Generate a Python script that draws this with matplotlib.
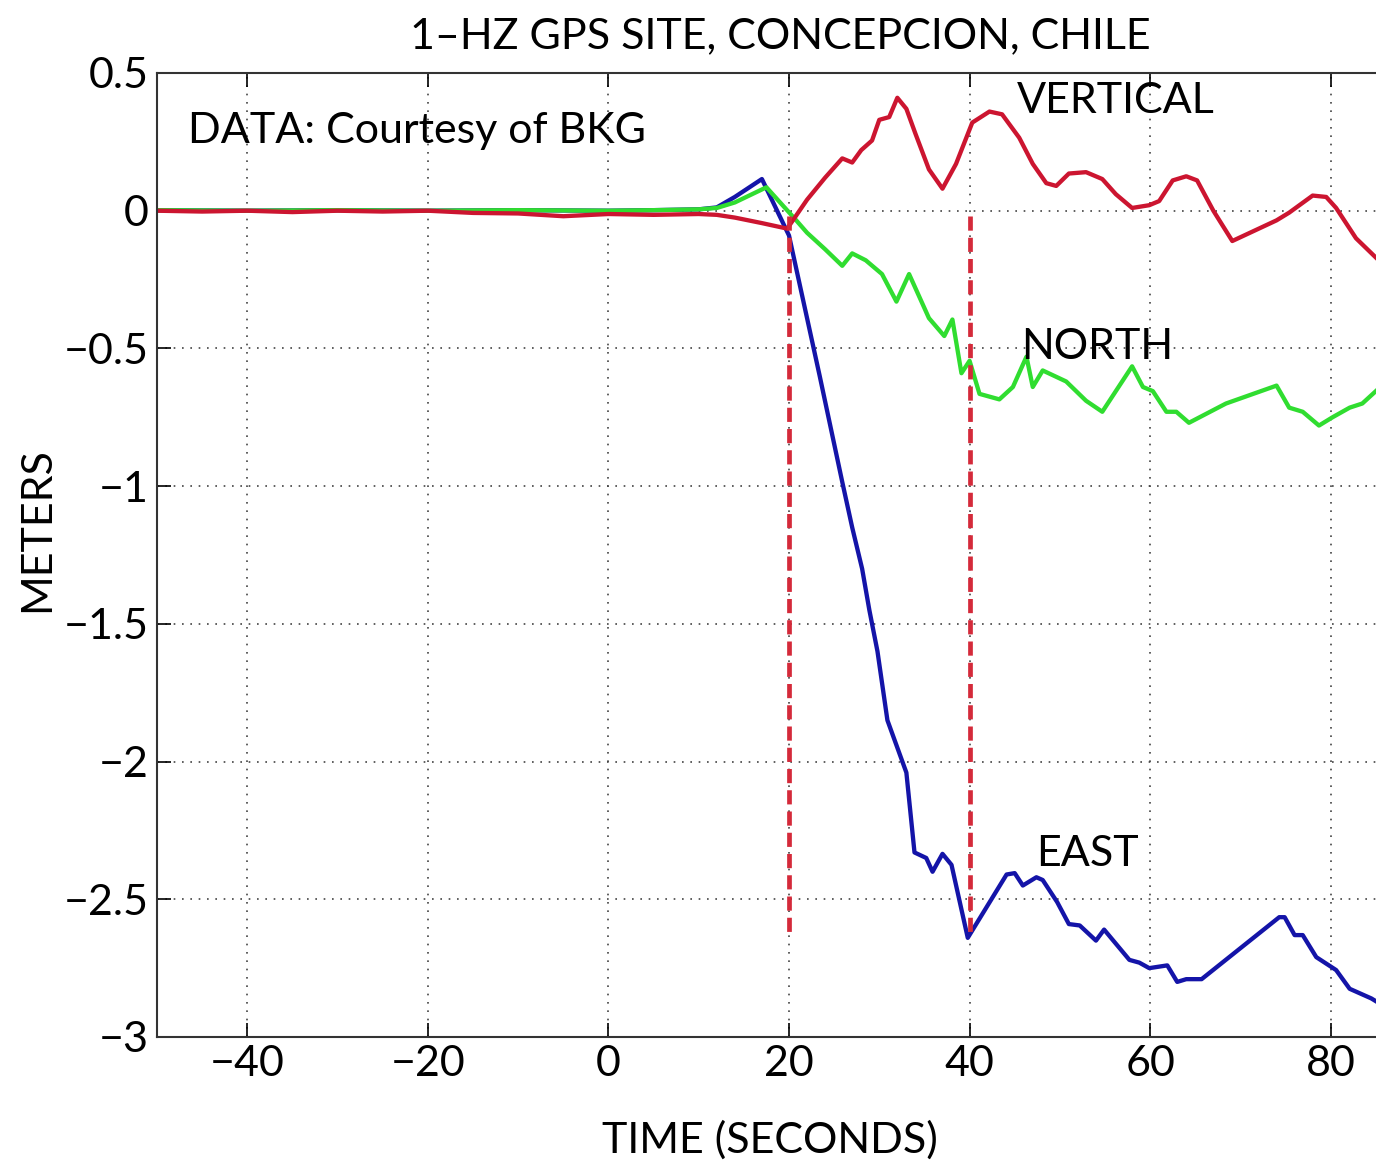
import numpy as np
import matplotlib
matplotlib.use('Agg')
import matplotlib.pyplot as plt

plt.rcParams['font.family'] = ['Lato', 'DejaVu Sans']

# time (s) and displacement (m)
t_vert = [-50, -45, -40, -35, -30, -25, -20, -15, -10, -5, 0, 5, 10, 12, 14, 17, 19.8,
          22, 24, 25.9, 27, 28, 29.2, 30, 31.1, 32, 33, 34, 35.5, 37, 38.5, 40.3, 42.2,
          43.6, 45.5, 47, 48.5, 49.6, 51, 52.9, 54.7, 56.2, 58, 59.9, 61, 62.5, 64, 65.2,
          67, 69.1, 74, 75.4, 78, 79.5, 80.6, 82.8, 85]
vert = [0.0, -0.003, 0.0, -0.005, 0.0, -0.003, 0.0, -0.008, -0.01, -0.02, -0.012, -0.015,
        -0.012, -0.015, -0.025, -0.045, -0.065,
        0.04, 0.12, 0.19, 0.175, 0.22, 0.255, 0.33, 0.34, 0.41, 0.37, 0.28, 0.15, 0.08,
        0.17, 0.32, 0.36, 0.35, 0.265, 0.17, 0.10, 0.09, 0.135, 0.14, 0.115, 0.06, 0.01,
        0.02, 0.035, 0.11, 0.125, 0.11, 0.0, -0.11, -0.035, -0.007, 0.055, 0.05, 0.01,
        -0.1, -0.17]

t_north = [-50, -40, -30, -20, -10, 0, 5, 10, 12, 14, 17.5, 20.8, 22, 24, 25.9, 27, 28.5,
           30.3, 31.9, 33.3, 35.5, 37.2, 38.1, 39.1, 40, 41.1, 43.3, 44.8, 46.3, 47, 48.1,
           50.7, 52.9, 54.7, 58, 59.2, 60.3, 61.8, 62.9, 64.3, 68.4, 74, 75.4, 76.9, 78.7,
           80.2, 82.1, 83.5, 85]
north = [0.002, 0.0, 0.002, 0.0, 0.002, 0.0, 0.002, 0.005, 0.01, 0.03, 0.085, -0.035,
         -0.08, -0.14, -0.2, -0.155, -0.18, -0.23, -0.33, -0.23, -0.39, -0.455, -0.395,
         -0.59, -0.545, -0.665, -0.685, -0.64, -0.53, -0.64, -0.58, -0.62, -0.69, -0.73,
         -0.565, -0.64, -0.655, -0.73, -0.73, -0.77, -0.70, -0.635, -0.715, -0.73, -0.78,
         -0.75, -0.715, -0.70, -0.655]

t_east = [-50, -40, -30, -20, -10, 0, 5, 10, 12, 14, 17, 20, 23.4, 25.9, 27, 28.1, 28.9,
          29.8, 30.9, 33, 33.9, 35.2, 35.9, 37, 38, 39.8, 44.1, 45, 45.9, 47.4, 48.1, 49.7,
          51, 52.2, 54, 54.9, 57.7, 58.8, 59.9, 61.9, 63, 64, 65.7, 74.3, 74.9, 76, 76.9,
          78.4, 80.6, 82.1, 84.5, 85]
east = [0.002, 0.0, 0.002, 0.0, 0.002, 0.0, 0.002, 0.005, 0.012, 0.05, 0.115, -0.09,
        -0.6, -0.985, -1.15, -1.3, -1.45, -1.6, -1.85, -2.04, -2.33, -2.35, -2.4, -2.335,
        -2.375, -2.64, -2.41, -2.405, -2.45, -2.42, -2.43, -2.51, -2.59, -2.595, -2.65,
        -2.61, -2.72, -2.73, -2.75, -2.74, -2.8, -2.79, -2.79, -2.565, -2.565, -2.63,
        -2.63, -2.71, -2.757, -2.825, -2.86, -2.87]

event_times = [20, 40]
event_top = -0.02
event_bottom = -2.63

xticks = [-40, -20, 0, 20, 40, 60, 80]
yticks = [0.5, 0, -0.5, -1, -1.5, -2, -2.5, -3]
ytick_labels = ['0.5', '0', '\u22120.5', '\u22121', '\u22121.5', '\u22122', '\u22122.5', '\u22123']
xtick_labels = ['\u221240', '\u221220', '0', '20', '40', '60', '80']

fig = plt.figure(figsize=(13.76, 11.64), dpi=100)
ax = fig.add_axes([157/1376, 1-1037/1164, 1264/1376, 964/1164])

ax.plot(t_east, east, color='#1414a8', lw=3.1, solid_joinstyle='round')
ax.plot(t_north, north, color='#30dd30', lw=3.1, solid_joinstyle='round')
ax.plot(t_vert, vert, color='#cc1530', lw=3.1, solid_joinstyle='round')
for te in event_times:
    ax.plot([te, te], [event_top, event_bottom], color='#d42a3a', lw=3.4,
            dashes=(3, 1.5))

ax.set_xlim(-50, 90)
ax.set_ylim(-3, 0.5)
ax.set_xticks(xticks)
ax.set_xticklabels(xtick_labels)
ax.set_yticks(yticks)
ax.set_yticklabels(ytick_labels)
ax.grid(True, linestyle=(0, (1, 4)), color='#444444', lw=1.2)
ax.tick_params(direction='in', length=10, width=1.2, top=True, right=True,
               labelsize=31, pad=6)
for s in ax.spines.values():
    s.set_linewidth(1.5)
    s.set_color('#333333')

fs = 31
ax.text(0.493, 1.038, '1\u2013HZ GPS SITE, CONCEPCION, CHILE', transform=ax.transAxes,
        ha='center', va='center', fontsize=fs)
ax.text(-46.6, 0.29, 'DATA: Courtesy of BKG', ha='left', va='center', fontsize=fs)
ax.text(45.2, 0.40, 'VERTICAL', ha='left', va='center', fontsize=fs)
ax.text(45.7, -0.495, 'NORTH', ha='left', va='center', fontsize=fs)
ax.text(47.4, -2.335, 'EAST', ha='left', va='center', fontsize=fs)

ax.set_xlabel('TIME (SECONDS)', fontsize=fs)
ax.xaxis.set_label_coords(0.485, -0.086)
ax.set_ylabel('METERS', fontsize=fs)
ax.yaxis.set_label_coords(-0.080, 0.526)

fig.savefig('out.png', dpi=100)
